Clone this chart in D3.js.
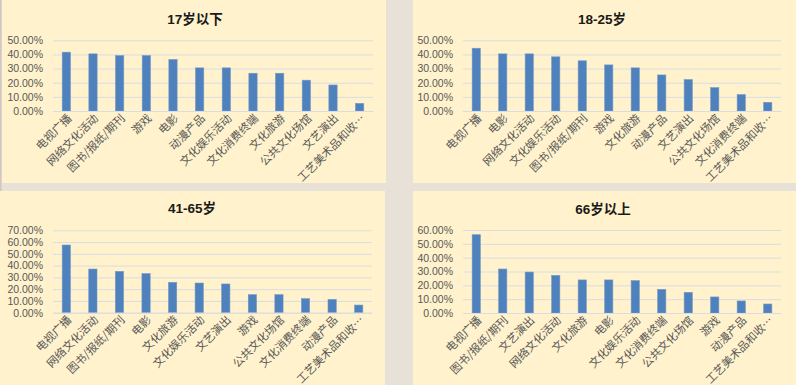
<!DOCTYPE html>
<html><head><meta charset="utf-8">
<script src="https://cdn.jsdelivr.net/npm/d3@7"></script>
<style>
html,body{margin:0;padding:0;background:#e8e1d8;}
svg{display:block;}
</style></head>
<body>
<svg id="c" width="796" height="385"></svg>
<script>
// ---- data ----
const titles = ["17岁以下", "18-25岁", "41-65岁", "66岁以上"];

const cats1 = ["电视广播","网络文化活动","图书/报纸/期刊","游戏","电影","动漫产品","文化娱乐活动","文化消费终端","文化旅游","公共文化场馆","文艺演出","工艺美术品和收…"];
const vals1 = [0.416,0.404,0.392,0.392,0.364,0.305,0.305,0.267,0.267,0.218,0.184,0.054];

const cats2 = ["电视广播","电影","网络文化活动","文化娱乐活动","图书/报纸/期刊","游戏","文化旅游","动漫产品","文艺演出","公共文化场馆","文化消费终端","工艺美术品和收…"];
const vals2 = [0.444,0.404,0.404,0.383,0.355,0.326,0.305,0.255,0.222,0.165,0.116,0.061];

const cats3 = ["电视广播","网络文化活动","图书/报纸/期刊","电影","文化旅游","文化娱乐活动","文艺演出","游戏","公共文化场馆","文化消费终端","动漫产品","工艺美术品和收…"];
const vals3 = [0.575,0.371,0.351,0.332,0.258,0.252,0.244,0.153,0.153,0.119,0.113,0.065];

const cats4 = ["电视广播","图书/报纸/期刊","文艺演出","网络文化活动","文化旅游","电影","文化娱乐活动","文化消费终端","公共文化场馆","游戏","动漫产品","工艺美术品和收…"];
const vals4 = [0.566,0.318,0.296,0.272,0.239,0.239,0.234,0.171,0.149,0.116,0.087,0.065];

const yMaxes = [0.5, 0.5, 0.7, 0.6];

// ---- layout ----
const panels = [
  {rx:2,  ry:0,   rw:384, rh:183, x0:53,  x1:373, yt:40.3,  yb:111,   tx:195, ty:24,  cats:cats1, vals:vals1},
  {rx:413,ry:0,   rw:383, rh:183, x0:463, x1:781, yt:40.3,  yb:111,   tx:602, ty:24,  cats:cats2, vals:vals2},
  {rx:0,  ry:191, rw:385, rh:194, x0:53,  x1:372, yt:230.3, yb:312.7, tx:192, ty:213, cats:cats3, vals:vals3},
  {rx:413,ry:191, rw:383, rh:194, x0:463, x1:781, yt:230,   yb:313,   tx:603, ty:214, cats:cats4, vals:vals4}
];

const svg = d3.select("#c");
const fmt = d3.format(".2%");

svg.append("rect").attr("x",0).attr("y",0).attr("width",1.5).attr("height",385).attr("fill","#cfc8c0");

panels.forEach((p,i)=>{
  const g = svg.append("g");
  g.append("rect").attr("x",p.rx).attr("y",p.ry).attr("width",p.rw).attr("height",p.rh)
    .attr("fill","#fff2cc");

  g.append("text").attr("x",p.tx).attr("y",p.ty).attr("text-anchor","middle")
    .attr("font-family","'Liberation Sans','Noto Sans CJK SC',sans-serif")
    .attr("font-weight","bold").attr("font-size","13.5px").attr("fill","#1a1a1a")
    .text(titles[i]);

  const x = d3.scaleBand().domain(p.cats).range([p.x0,p.x1]).paddingInner(0.69).paddingOuter(0.345);
  const y = d3.scaleLinear().domain([0,yMaxes[i]]).range([p.yb,p.yt]);
  const ticks = d3.range(0, yMaxes[i]+1e-9, 0.1);

  const yAxis = d3.axisLeft(y).tickValues(ticks).tickFormat(fmt).tickSize(-(p.x1-p.x0)).tickPadding(10);
  const ya = g.append("g").attr("transform",`translate(${p.x0},0)`).call(yAxis);
  ya.select(".domain").remove();
  ya.selectAll(".tick line").attr("stroke","#d9dde3").attr("stroke-width",1);
  ya.selectAll(".tick text").attr("fill","#595959")
    .attr("font-family","'Liberation Sans',Arial,sans-serif").attr("font-size","10.5px");

  g.selectAll("rect.bar").data(p.cats).enter().append("rect").attr("class","bar")
    .attr("x",d=>x(d)).attr("width",x.bandwidth())
    .attr("y",(d,j)=>y(p.vals[j])).attr("height",(d,j)=>p.yb-y(p.vals[j]))
    .attr("fill","#4f81bd").attr("stroke","#6f98cc").attr("stroke-width",0.6);

  const xAxis = d3.axisBottom(x).tickSize(0).tickPadding(0);
  const xa = g.append("g").attr("transform",`translate(0,${p.yb})`).call(xAxis);
  xa.select(".domain").attr("stroke","#d9dde3");
  xa.selectAll(".tick text")
    .attr("font-family","'Noto Sans CJK SC',sans-serif").attr("font-size","11.2px").attr("fill","#595959")
    .attr("text-anchor","end").attr("dy","0")
    .attr("transform","translate(6,8) rotate(-45)");
});
</script>
</body></html>
